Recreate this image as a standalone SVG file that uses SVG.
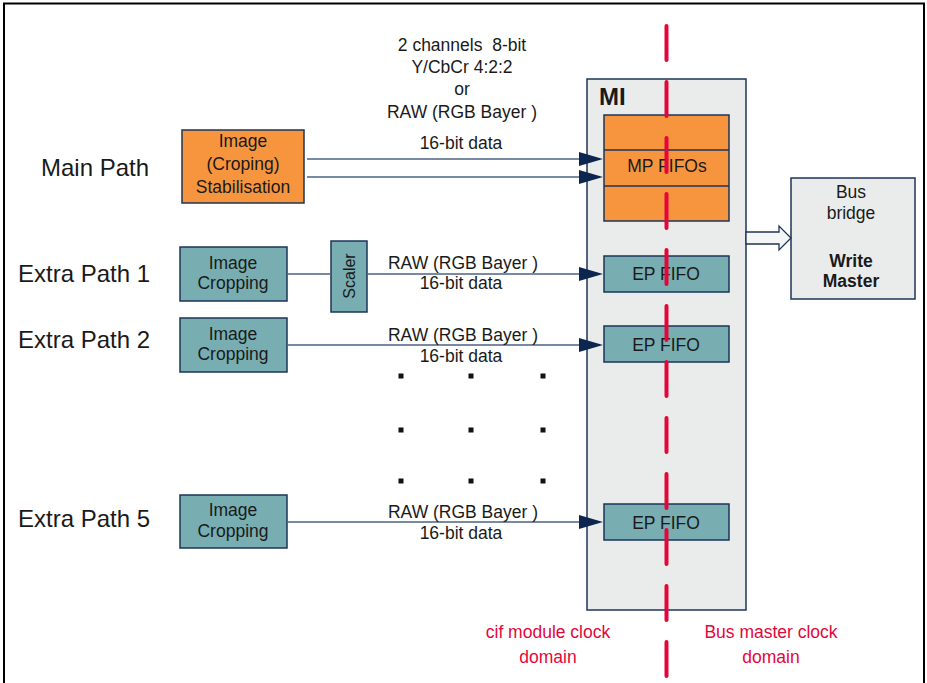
<svg xmlns="http://www.w3.org/2000/svg" width="927" height="683" viewBox="0 0 927 683">
<style>
text{font-family:"Liberation Sans",Arial,sans-serif;fill:#1a1a1a;}
.t17{font-size:17.5px;text-anchor:middle;}
.lbl{font-size:24px;}
.red{fill:#e4063a;font-size:17.5px;text-anchor:middle;}
.orange{fill:#f7953f;stroke:#1c3558;stroke-width:1.5;}
.teal{fill:#78adb1;stroke:#1c3558;stroke-width:1.5;}
.grey{fill:#eaecec;stroke:#1c3558;stroke-width:1.5;}
.conn{stroke:#4a6285;stroke-width:1.5;fill:none;}
.head{fill:#0c2650;}
.dot{fill:#111;}
</style>
<rect x="0" y="0" width="927" height="683" fill="#ffffff"/>
<rect x="4" y="3.5" width="920" height="700" fill="none" stroke="#000" stroke-width="2"/>

<!-- Side labels -->
<text class="lbl" x="41" y="176">Main Path</text>
<text class="lbl" x="18" y="282">Extra Path 1</text>
<text class="lbl" x="18" y="348">Extra Path 2</text>
<text class="lbl" x="18" y="527">Extra Path 5</text>

<g id="mi">
<rect class="grey" x="587" y="79" width="159" height="531"/>
<text x="599" y="105" style="font-size:24px;font-weight:bold;">MI</text>
</g>

<g id="mp-fifos">
<rect class="orange" x="604" y="115" width="125" height="106"/>
<line x1="604" y1="150" x2="729" y2="150" stroke="#1c3558" stroke-width="1.5"/>
<line x1="604" y1="186" x2="729" y2="186" stroke="#1c3558" stroke-width="1.5"/>
<text class="t17" x="667" y="172">MP FIFOs</text>
</g>

<g id="ep-fifo-1">
<rect class="teal" x="604" y="256" width="125" height="36"/>
<text class="t17" x="666" y="280">EP FIFO</text>
</g>
<g id="ep-fifo-2">
<rect class="teal" x="604" y="326" width="125" height="36"/>
<text class="t17" x="666" y="351">EP FIFO</text>
</g>
<g id="ep-fifo-5">
<rect class="teal" x="604" y="504" width="125" height="36"/>
<text class="t17" x="666" y="529">EP FIFO</text>
</g>

<g id="bus-bridge">
<rect class="grey" x="791" y="178" width="124" height="121"/>
<text class="t17" x="851" y="198">Bus</text>
<text class="t17" x="851" y="219">bridge</text>
<text class="t17" x="851" y="267" style="font-weight:bold;">Write</text>
<text class="t17" x="851" y="287" style="font-weight:bold;">Master</text>
</g>

<g id="main-image">
<rect class="orange" x="182" y="130" width="122" height="73"/>
<text class="t17" x="243" y="147">Image</text>
<text class="t17" x="243" y="170">(Croping)</text>
<text class="t17" x="243" y="193">Stabilisation</text>
</g>

<g id="ep1-crop">
<rect class="teal" x="180" y="247" width="107" height="54"/>
<text class="t17" x="233" y="269">Image</text>
<text class="t17" x="233" y="289">Cropping</text>
</g>
<g id="scaler">
<rect class="teal" x="331" y="241" width="36" height="71"/>
<text class="t17" transform="translate(355,276) rotate(-90)" x="0" y="0" style="font-size:16px;">Scaler</text>
</g>
<g id="ep2-crop">
<rect class="teal" x="180" y="318" width="107" height="54"/>
<text class="t17" x="233" y="340">Image</text>
<text class="t17" x="233" y="360">Cropping</text>
</g>
<g id="ep5-crop">
<rect class="teal" x="180" y="495" width="107" height="53"/>
<text class="t17" x="233" y="516">Image</text>
<text class="t17" x="233" y="537">Cropping</text>
</g>

<g id="connectors">
<line class="conn" x1="307" y1="159" x2="582" y2="159"/>
<polygon class="head" points="579,152 603,159 579,166"/>
<line class="conn" x1="307" y1="177" x2="582" y2="177"/>
<polygon class="head" points="579,170 603,177 579,184"/>
<line class="conn" x1="287" y1="274" x2="331" y2="274"/>
<line class="conn" x1="367" y1="274" x2="582" y2="274"/>
<polygon class="head" points="579,267 603,274 579,281"/>
<line class="conn" x1="287" y1="345" x2="582" y2="345"/>
<polygon class="head" points="579,338 603,345 579,352"/>
<line class="conn" x1="287" y1="522" x2="582" y2="522"/>
<polygon class="head" points="579,515 603,522 579,529"/>
<polygon points="746,232 779,232 779,226 791,238 779,250 779,244 746,244" fill="#f4f6f6" stroke="#1c3558" stroke-width="1.3"/>
</g>

<!-- connector labels -->
<text class="t17" x="462" y="51" xml:space="preserve">2 channels  8-bit</text>
<text class="t17" x="462" y="73">Y/CbCr 4:2:2</text>
<text class="t17" x="462" y="95">or</text>
<text class="t17" x="462" y="118">RAW (RGB Bayer )</text>
<text class="t17" x="461" y="149">16-bit data</text>
<text class="t17" x="463" y="269">RAW (RGB Bayer )</text>
<text class="t17" x="461" y="289">16-bit data</text>
<text class="t17" x="463" y="341">RAW (RGB Bayer )</text>
<text class="t17" x="461" y="362">16-bit data</text>
<text class="t17" x="463" y="518">RAW (RGB Bayer )</text>
<text class="t17" x="461" y="539">16-bit data</text>

<!-- dots -->
<g>
<rect class="dot" x="398.5" y="373.5" width="5" height="5"/>
<rect class="dot" x="468.5" y="373.5" width="5" height="5"/>
<rect class="dot" x="540.5" y="373.5" width="5" height="5"/>
<rect class="dot" x="398.5" y="427.5" width="5" height="5"/>
<rect class="dot" x="468.5" y="427.5" width="5" height="5"/>
<rect class="dot" x="540.5" y="427.5" width="5" height="5"/>
<rect class="dot" x="398.5" y="478.5" width="5" height="5"/>
<rect class="dot" x="468.5" y="478.5" width="5" height="5"/>
<rect class="dot" x="540.5" y="478.5" width="5" height="5"/>
</g>

<!-- clock domain boundary -->
<line x1="666.5" y1="26" x2="666.5" y2="683" stroke="#e4063a" stroke-width="4" stroke-linecap="round" stroke-dasharray="34 22"/>
<text class="red" x="548" y="638">cif module clock</text>
<text class="red" x="548" y="663">domain</text>
<text class="red" x="771" y="638">Bus master clock</text>
<text class="red" x="771" y="663">domain</text>
</svg>
